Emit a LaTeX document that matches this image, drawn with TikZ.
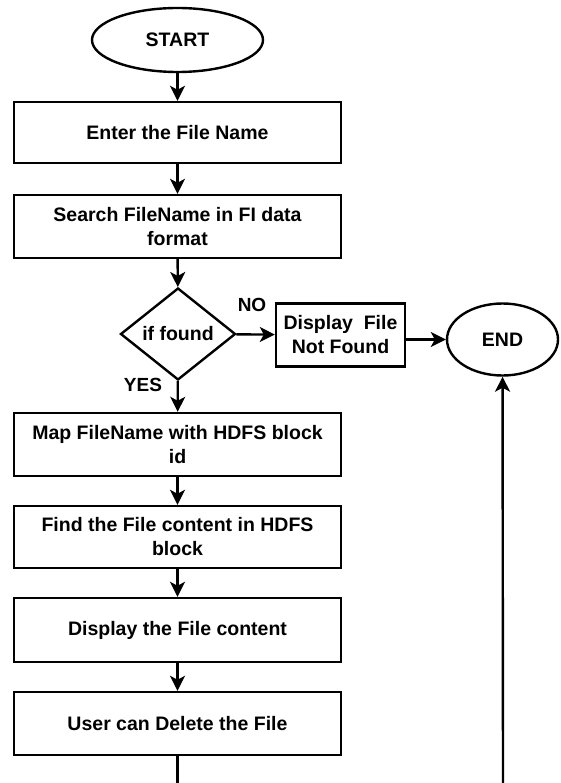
\documentclass[tikz,border=0pt]{standalone}
\usepackage{fontspec}
\setmainfont{Liberation Sans}
\usetikzlibrary{shapes.geometric,arrows.meta}
\begin{document}
\begin{tikzpicture}[x=1pt,y=-1pt,
  line width=2.4pt,
  every node/.style={font=\fontsize{19.5}{24}\selectfont\bfseries, align=center, inner sep=0pt},
  term/.style={draw, ellipse},
  procbox/.style={draw, rectangle, minimum width=327pt},
  decide/.style={draw, diamond, minimum width=115pt, minimum height=92pt, aspect=1.25},
  arr/.style={-{Stealth[length=15pt,width=15pt,inset=4pt]}, line width=2.4pt},
  lbl/.style={font=\fontsize{19}{22}\selectfont\bfseries}]
\useasboundingbox (0,0) rectangle (561,783);
\node[term, minimum width=171pt, minimum height=64pt] (start) at (177.5,40) {START};
\node[procbox, minimum height=61pt] (b1) at (177.5,132.5) {Enter the File Name};
\node[procbox, minimum height=63pt] (b2) at (177.5,226.5) {Search FileName in FI data\\format};
\node[decide] (dec) at (178,334) {if found};
\node[draw, rectangle, minimum width=129pt, minimum height=63pt] (disp) at (340.5,335) {Display~~File\\Not Found};
\node[term, minimum width=111pt, minimum height=72pt] (end) at (502.5,339.5) {END};
\node[procbox, minimum height=63pt] (b3) at (177.5,444.5) {Map FileName with HDFS block\\id};
\node[procbox, minimum height=62pt] (b4) at (177.5,537) {Find the File content in HDFS\\block};
\node[procbox, minimum height=64pt] (b5) at (177.5,630) {Display the File content};
\node[procbox, minimum height=63pt] (b6) at (177.5,723.5) {User can Delete the File};
\node[lbl] (no) at (252,305) {NO};
\node[lbl] (yes) at (143,385) {YES};
\coordinate (bl) at (177.5,783);
\coordinate (br) at (503,783);
\draw[arr] (start) -- (b1);
\draw[arr] (b1) -- (b2);
\draw[arr] (b2) -- (dec);
\draw[arr] (dec) -- (disp);
\draw[arr] (disp.east |- end) -- (end.west);
\draw[arr] (dec) -- (b3);
\draw[arr] (b3) -- (b4);
\draw[arr] (b4) -- (b5);
\draw[arr] (b5) -- (b6);
\draw[line width=2.4pt] (b6) -- (bl);
\draw[arr] (br) -- (end);
\end{tikzpicture}
\end{document}
